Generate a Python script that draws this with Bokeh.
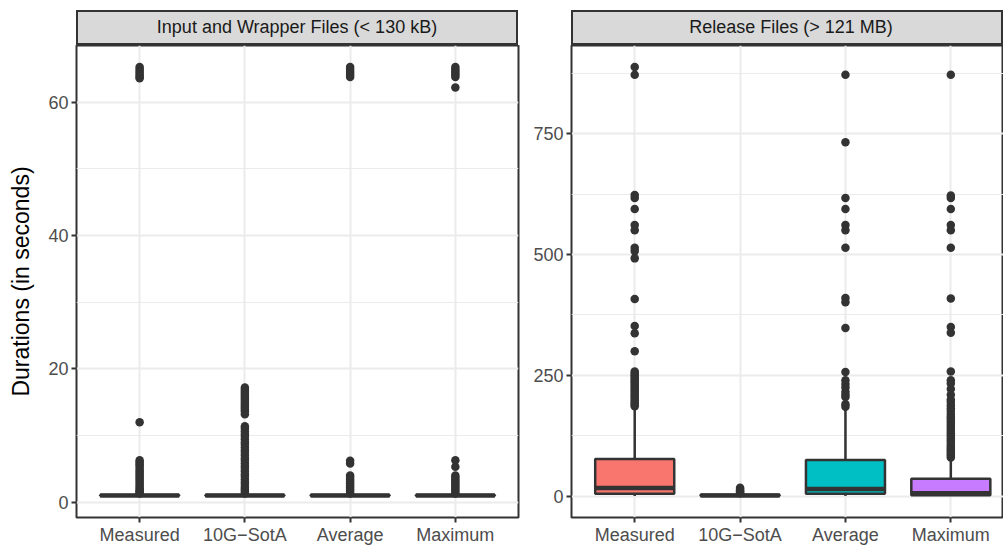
from bokeh.plotting import figure
from bokeh.models import FixedTicker, Range1d, Div
from bokeh.layouts import row, column
from bokeh.embed import file_html
from bokeh.resources import INLINE

# ---------------- data ----------------
categories = ["Measured", "10G\u2212SotA", "Average", "Maximum"]
fills = ["#F8766D", "#7CAE00", "#00BFC4", "#C77CFF"]

small_title = "Input and Wrapper Files (&lt; 130 kB)"
small_q1 = [0.98, 0.98, 0.98, 0.98]
small_med = [1.02, 1.02, 1.02, 1.02]
small_q3 = [1.08, 1.08, 1.08, 1.08]
small_lo = [0.92, 0.92, 0.92, 0.92]
small_hi = [1.2, 1.2, 1.2, 1.2]
small_out_measured = [65.3, 65.0, 64.7, 64.4, 64.1, 63.8, 63.6, 12.0, 6.3, 6.0, 5.7, 5.4,
                      5.0, 4.7, 4.4, 4.1, 3.8, 3.5, 3.2, 2.9, 2.6, 2.3, 2.0, 1.8, 1.6, 1.4, 1.3]
small_out_sota = [17.2, 16.9, 16.6, 16.3, 16.0, 15.7, 15.4, 15.1, 14.8, 14.5, 14.2, 13.9,
                  13.6, 13.2, 11.4, 11.0, 10.6, 10.2, 9.8, 9.4, 9.0, 8.6, 8.2, 7.8, 7.4, 7.0,
                  6.6, 6.2, 5.8, 5.4, 5.0, 4.6, 4.2, 3.8, 3.4, 3.0, 2.6, 2.2, 1.9, 1.6, 1.3]
small_out_average = [65.3, 65.0, 64.7, 64.4, 64.1, 63.8, 6.2, 5.8, 4.0, 3.7, 3.4, 3.1,
                     2.8, 2.5, 2.2, 1.9, 1.6, 1.3]
small_out_maximum = [65.3, 65.0, 64.7, 64.4, 64.1, 63.8, 62.2, 6.3, 5.3, 4.0, 3.7, 3.4,
                     3.1, 2.8, 2.5, 2.2, 1.9, 1.6, 1.3]
small_yticks = [0, 20, 40, 60]
small_yminor = [10, 30, 50]

large_title = "Release Files (&gt; 121 MB)"
large_q1 = [5, 0.8, 5, 2]
large_med = [17, 1.5, 15, 6]
large_q3 = [77, 2.8, 75, 36]
large_lo = [0.5, 0.3, 0.5, 0.3]
large_hi = [182, 5.5, 183, 76]
large_out_measured = [888, 872, 623, 617, 594, 561, 550, 514, 507, 492, 408, 352, 337, 300,
                      258, 254, 250, 246, 242, 238, 234, 230, 226, 222, 218, 214, 210, 206,
                      202, 198, 194, 190, 186]
large_out_sota = [17.5, 15, 12.5, 10, 7.5, 6]
large_out_average = [872, 732, 617, 594, 561, 550, 514, 410, 401, 348, 257, 240, 232, 225,
                     216, 210, 205, 190, 185]
large_out_maximum = [872, 622, 617, 594, 561, 550, 514, 409, 350, 338, 258, 240, 233, 222,
                     210, 200, 195, 188, 182, 176, 170, 165, 160, 155, 150, 145, 140, 135,
                     130, 125, 120, 115, 110, 105, 100, 96, 92, 88, 84, 80]
large_yticks = [0, 250, 500, 750]
large_yminor = [125, 375, 625, 875]

FONT = "Liberation Sans"
DARK = "#333333"
BOX_W = 0.75


def make_panel(q1, med, q3, lo, hi, outs, yticks, yminor, width, height,
               border_left, border_right, x_end, ylabel=None):
    xs = list(range(1, len(categories) + 1))
    allv = list(lo) + list(hi) + [v for o in outs for v in o]
    vmin, vmax = min(allv), max(allv)
    pad = 0.05 * (vmax - vmin)
    p = figure(width=width, height=height, output_backend="svg", toolbar_location=None,
               x_range=Range1d(0.4, x_end), y_range=Range1d(vmin - pad, vmax + pad),
               min_border_left=border_left, min_border_right=border_right,
               min_border_top=0, min_border_bottom=0)
    p.background_fill_color = "white"
    p.border_fill_color = "white"
    p.outline_line_color = DARK
    p.outline_line_width = 2

    p.xaxis.ticker = FixedTicker(ticks=xs)
    p.xaxis.major_label_overrides = {x: c for x, c in zip(xs, categories)}
    p.yaxis.ticker = FixedTicker(ticks=yticks, minor_ticks=yminor)
    p.axis.axis_line_color = None
    p.axis.major_tick_line_color = DARK
    p.axis.major_tick_line_width = 2
    p.axis.major_tick_in = 0
    p.axis.major_tick_out = 5
    p.axis.minor_tick_line_color = None
    p.axis.major_label_text_font = FONT
    p.axis.major_label_text_font_size = "18px"
    p.axis.major_label_text_color = "#4D4D4D"
    p.yaxis.major_label_standoff = 3
    p.xaxis.major_label_standoff = 2
    if ylabel:
        p.yaxis.axis_label = ylabel
        p.yaxis.axis_label_text_font = FONT
        p.yaxis.axis_label_text_font_size = "23px"
        p.yaxis.axis_label_text_font_style = "normal"
        p.yaxis.axis_label_text_color = "black"
        p.yaxis.axis_label_standoff = 11

    p.xgrid.grid_line_color = "#EBEBEB"
    p.xgrid.grid_line_width = 2
    p.ygrid.grid_line_color = "#EBEBEB"
    p.ygrid.grid_line_width = 2
    p.ygrid.minor_grid_line_color = "#EBEBEB"
    p.ygrid.minor_grid_line_width = 1

    # outliers first (ggplot order), then whiskers, box, median
    ox, oy = [], []
    for x, o in zip(xs, outs):
        ox += [x] * len(o)
        oy += list(o)
    p.scatter(x=ox, y=oy, size=8.5, fill_color=DARK, line_color=DARK, line_width=0)

    p.segment(x0=xs, y0=q3, x1=xs, y1=hi, line_color=DARK, line_width=2.5)
    p.segment(x0=xs, y0=q1, x1=xs, y1=lo, line_color=DARK, line_width=2.5)
    p.vbar(x=xs, top=q3, bottom=q1, width=BOX_W, fill_color=fills,
           line_color=DARK, line_width=2.5)
    p.segment(x0=[x - BOX_W / 2 for x in xs], y0=med, x1=[x + BOX_W / 2 for x in xs],
              y1=med, line_color=DARK, line_width=4.5)
    return p


def strip(text, width, left, shift=0):
    html = ('<div style="width:%dpx;height:35px;box-sizing:border-box;background:#D9D9D9;'
            'border:2px solid #333333;display:flex;align-items:center;justify-content:center;'
            'padding-left:%dpx;font-family:\'Liberation Sans\';font-size:18px;color:#1A1A1A;'
            'white-space:nowrap;overflow:hidden;">%s</div>') % (width, shift, text)
    return Div(text=html, width=width, height=35, margin=(10, 0, 0, left))


FIG_H = 502

left_fig = make_panel(small_q1, small_med, small_q3, small_lo, small_hi,
                      [small_out_measured, small_out_sota, small_out_average, small_out_maximum],
                      small_yticks, small_yminor, width=526, height=FIG_H,
                      border_left=76, border_right=8, x_end=4.6,
                      ylabel="Durations (in seconds)")
right_fig = make_panel(large_q1, large_med, large_q3, large_lo, large_hi,
                       [large_out_measured, large_out_sota, large_out_average, large_out_maximum],
                       large_yticks, large_yminor, width=477, height=FIG_H,
                       border_left=45, border_right=0, x_end=4.5)

left_col = column(strip(small_title, 442, 76), left_fig, spacing=0)
right_col = column(strip(large_title, 432, 45, shift=8), right_fig, spacing=0)
layout = row(left_col, right_col, spacing=0)

open("out.html", "w").write(file_html(layout, INLINE))
